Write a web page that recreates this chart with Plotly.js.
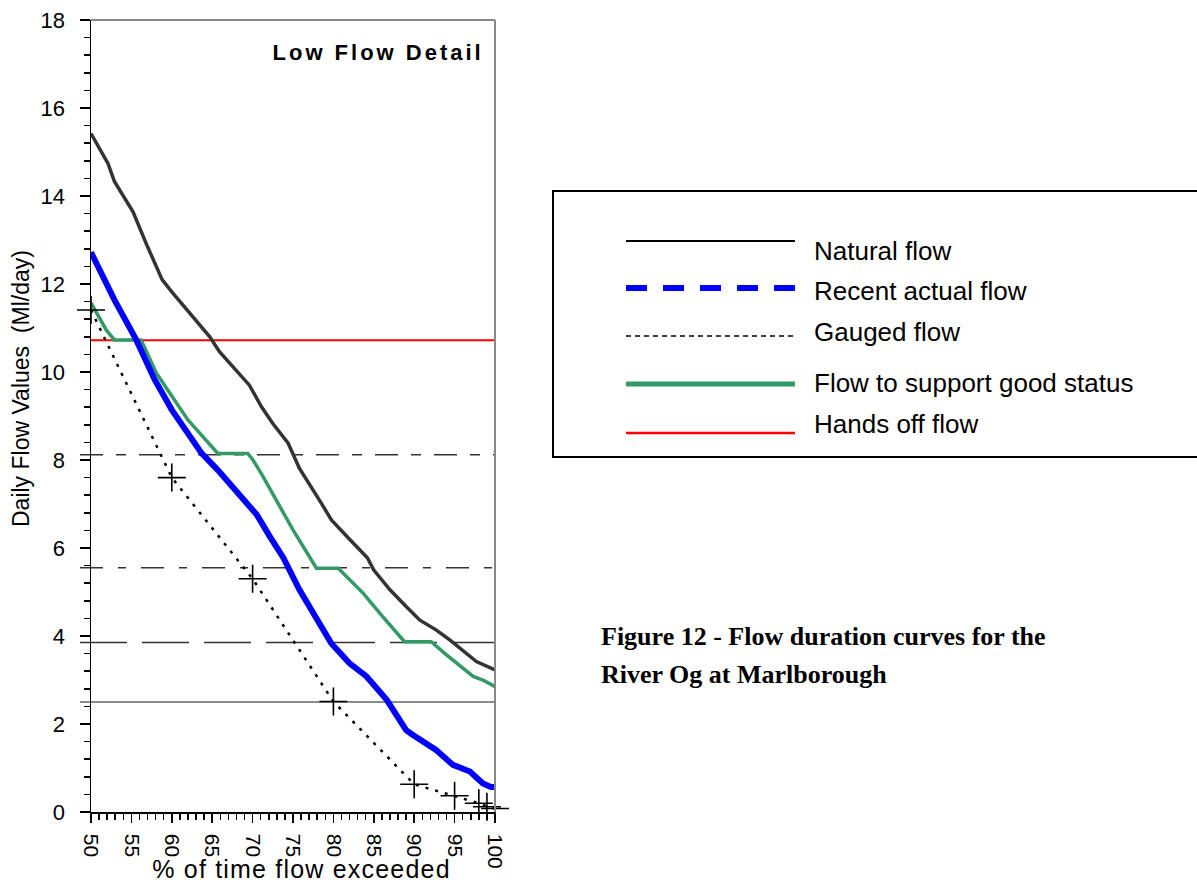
<!DOCTYPE html>
<html>
<head>
<meta charset="utf-8">
<script src="https://cdn.plot.ly/plotly-3.0.1.min.js"></script>
<style>html,body{margin:0;padding:0;background:#fff;}#chart{width:1197px;height:883px;}</style>
</head>
<body>
<div id="chart"></div>
<script>
// ---- Data ----
const natX = [50, 51, 52.1, 52.9, 55.2, 56.9, 58.8, 60, 62.6, 64.7, 65.9, 69.6, 71.1, 72.5, 74.4, 75.8, 78.5, 79.75, 82, 84.2, 85, 87, 89, 90.7, 92.7, 94.4, 97.7, 100];
const natY = [15.42, 15.1, 14.74, 14.33, 13.64, 12.89, 12.1, 11.82, 11.26, 10.8, 10.46, 9.7, 9.21, 8.83, 8.38, 7.81, 7.02, 6.64, 6.2, 5.78, 5.5, 5.05, 4.67, 4.36, 4.14, 3.91, 3.42, 3.23];

const recX = [50, 51.7, 52.9, 55.6, 57.9, 60, 63.7, 65.7, 69.6, 70.5, 72.1, 73.8, 75.8, 78.5, 79.75, 82, 84.1, 86.6, 89, 89.85, 92.7, 94.8, 96.9, 98.5, 99.5, 100];
const recY = [12.72, 12.09, 11.64, 10.73, 9.82, 9.14, 8.15, 7.77, 6.94, 6.76, 6.27, 5.78, 5.05, 4.21, 3.83, 3.38, 3.08, 2.55, 1.86, 1.75, 1.41, 1.07, 0.92, 0.65, 0.57, 0.57];

const gauX = [50, 60, 70, 80, 90, 95, 98, 99, 100];
const gauY = [11.41, 7.6, 5.3, 2.51, 0.63, 0.37, 0.2, 0.12, 0.08];

const gsX = [50, 51.9, 52.9, 56.2, 58.1, 60, 62, 65.7, 69.4, 70.05, 71.3, 75, 75.8, 77.9, 80.6, 83.7, 86.1, 88.8, 92.1, 94, 97.3, 98.5, 100];
const gsY = [11.57, 10.95, 10.73, 10.73, 9.97, 9.44, 8.91, 8.15, 8.15, 8.0, 7.62, 6.41, 6.18, 5.54, 5.54, 4.97, 4.44, 3.87, 3.87, 3.57, 3.08, 3.0, 2.85];

const handsOff = 10.72;
const refLevels = [8.12, 5.55, 3.85, 2.5];

const legendNames = ["Natural flow", "Recent actual flow", "Gauged flow", "Flow to support good status", "Hands off flow"];
const captionLines = ["Figure 12 - Flow duration curves for the", "River Og at Marlborough"];

// ---- Layout helpers (pixel -> paper) ----
const L = 91, R = 702, T = 20, B = 71, W = 1197, H = 883;
const PW = W - L - R, PH = H - T - B;
const PX = p => (p - L) / PW;
const PY = p => (H - B - p) / PH;

const traces = [
  {x: gsX, y: gsY, mode: 'lines', line: {color: '#339966', width: 3.5}, hoverinfo: 'skip'},
  {x: natX, y: natY, mode: 'lines', line: {color: '#333333', width: 3.5}, hoverinfo: 'skip'},
  {x: recX, y: recY, mode: 'lines', line: {color: '#0000ff', width: 6}, hoverinfo: 'skip'},
  {x: gauX, y: gauY, mode: 'lines+markers', line: {color: '#000', width: 2.5, dash: '3px,7px'},
   marker: {symbol: 'cross-thin-open', size: 20, line: {color: '#000', width: 1.6}}, cliponaxis: false, hoverinfo: 'skip'}
];

const refDash = ['23px,13px,10px,13px', '23px,15px,8px,15px', '47px,15px', 'solid'];
const refColor = ['#333', '#333', '#333', '#666'];

const shapes = [];
// plot frame top/right (grey)
shapes.push({type: 'line', xref: 'paper', yref: 'paper', x0: 0, x1: 1, y0: 1, y1: 1, line: {color: '#888', width: 2}});
shapes.push({type: 'line', xref: 'paper', yref: 'paper', x0: 1, x1: 1, y0: 0, y1: 1, line: {color: '#888', width: 2}});
// reference levels
refLevels.forEach((v, i) => shapes.push({type: 'line', xref: 'paper', yref: 'y', x0: PX(80), x1: 1, y0: v, y1: v,
  layer: 'below', line: {color: refColor[i], width: 1.5, dash: refDash[i]}}));
shapes.push({type: 'line', xref: 'paper', yref: 'y', x0: 0, x1: 1, y0: handsOff, y1: handsOff,
  layer: 'below', line: {color: '#ff0000', width: 2}});

// legend box
shapes.push({type: 'rect', xref: 'paper', yref: 'paper', x0: PX(553), x1: PX(1202), y0: PY(457), y1: PY(191),
  line: {color: '#000', width: 2}});
const legY = [241, 288, 336, 384, 433];
const legTextY = [251, 291, 332, 383, 424];
const legStyle = [
  {color: '#000', width: 2, dash: 'solid'},
  {color: '#0000ff', width: 6, dash: '21px,16px'},
  {color: '#000', width: 1.5, dash: '5px,4px'},
  {color: '#339966', width: 5, dash: 'solid'},
  {color: '#ff0000', width: 2.5, dash: 'solid'}
];
legY.forEach((py, i) => shapes.push({type: 'line', xref: 'paper', yref: 'paper', x0: PX(626), x1: PX(795),
  y0: PY(py), y1: PY(py), line: legStyle[i]}));

const annotations = [];
legendNames.forEach((t, i) => annotations.push({text: t, xref: 'paper', yref: 'paper', x: PX(812), y: PY(legTextY[i]),
  xanchor: 'left', yanchor: 'middle', showarrow: false, font: {family: 'Liberation Sans, Arial, sans-serif', size: 26, color: '#000'}}));

annotations.push({text: '<b>Low Flow Detail</b>', xref: 'paper', yref: 'paper', x: PX(377.5), y: PY(52),
  xanchor: 'center', yanchor: 'middle', showarrow: false, font: {family: 'Liberation Sans, Arial, sans-serif', size: 22, color: '#000'}});
annotations.push({text: 'Daily Flow Values  (Ml/day)', xref: 'paper', yref: 'paper', x: PX(21), y: PY(389), textangle: -90,
  xanchor: 'center', yanchor: 'middle', showarrow: false, font: {family: 'Liberation Sans, Arial, sans-serif', size: 23, color: '#000'}});
annotations.push({text: '% of time flow exceeded', xref: 'paper', yref: 'paper', x: PX(301), y: PY(869),
  xanchor: 'center', yanchor: 'middle', showarrow: false, font: {family: 'Liberation Sans, Arial, sans-serif', size: 25, color: '#000'}});
const capY = [636, 674];
captionLines.forEach((t, i) => annotations.push({text: '<b>' + t + '</b>', xref: 'paper', yref: 'paper', x: PX(599), y: PY(capY[i]),
  xanchor: 'left', yanchor: 'middle', showarrow: false, font: {family: 'Liberation Serif, Times New Roman, serif', size: 26, color: '#000'}}));

const yTickFont = {family: 'Liberation Sans, Arial, sans-serif', size: 22, color: '#000'};
const xTickFont = {family: 'Liberation Sans, Arial, sans-serif', size: 21, color: '#000'};
const layout = {
  width: W, height: H, margin: {l: L, r: R, t: T, b: B, pad: 0},
  paper_bgcolor: '#fff', plot_bgcolor: '#fff', showlegend: false,
  xaxis: {range: [50, 100], dtick: 5, tick0: 50, ticks: 'outside', ticklen: 9, tickwidth: 1.5, tickcolor: '#000',
    minor: {dtick: 1, ticks: 'outside', ticklen: 6, tickwidth: 1.5, tickcolor: '#000'},
    tickangle: 90, tickfont: xTickFont, showline: true, linecolor: '#000', linewidth: 1.5,
    showgrid: false, zeroline: false, fixedrange: true, ticklabelstandoff: 7},
  yaxis: {range: [0, 18], dtick: 2, tick0: 0, ticks: 'outside', ticklen: 10, tickwidth: 1.5, tickcolor: '#000',
    minor: {dtick: 0.4, ticks: 'outside', ticklen: 6, tickwidth: 1.5, tickcolor: '#000'},
    tickfont: yTickFont, showline: true, linecolor: '#000', linewidth: 1.5,
    showgrid: false, zeroline: false, fixedrange: true, ticklabelstandoff: 10},
  shapes: shapes, annotations: annotations
};

Plotly.newPlot('chart', traces, layout, {displayModeBar: false, staticPlot: true}).then(() => {
  document.querySelectorAll('.annotation-text').forEach(el => {
    const t = el.textContent;
    if (t === 'Low Flow Detail') el.style.letterSpacing = '3px';
    if (t === '% of time flow exceeded') el.style.letterSpacing = '1.2px';
  });
});
</script>
</body>
</html>
